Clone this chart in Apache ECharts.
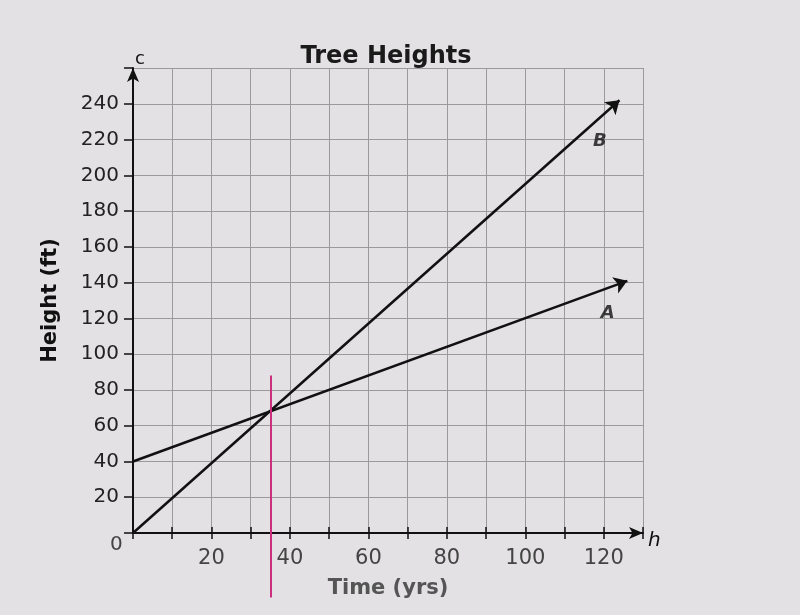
<!DOCTYPE html>
<html><head><meta charset="utf-8">
<script src="https://cdn.jsdelivr.net/npm/echarts@6/dist/echarts.min.js"></script>
<style>html,body{margin:0;padding:0;background:#e3e1e3}#c{width:800px;height:615px}</style>
</head><body><div id="c"></div>
<script>
const titleText = 'Tree Heights';
const xName = 'Time (yrs)';
const yName = 'Height (ft)';
const xTickLabels = [20, 40, 60, 80, 100, 120];
const yTickLabels = [20, 40, 60, 80, 100, 120, 140, 160, 180, 200, 220, 240];
const treeA = [[0, 40], [126, 141]];
const treeB = [[0, 0], [124, 242]];
const marker = [[35, -36], [35, 88]];
const labelA = [121, 123, 'A'];
const labelB = [119, 219, 'B'];

const chart = echarts.init(document.getElementById('c'));
const font = 'DejaVu Sans';
const xBase = { type: 'value', min: 0, max: 130, interval: 10 };
chart.setOption({
  backgroundColor: '#e3e1e3',
  title: { text: titleText, left: 381, top: 40, textAlign: 'center',
    textStyle: { fontFamily: font, fontWeight: 'bold', fontSize: 24, color: '#1a1a1a' } },
  grid: { left: 133, right: 157, top: 68, bottom: 82 },
  xAxis: [Object.assign({}, xBase, {
    name: xName, nameLocation: 'middle', nameGap: 45,
    nameTextStyle: { fontFamily: font, fontSize: 21, fontWeight: 'bold', color: '#555' },
    axisLine: { show: true, lineStyle: { color: '#111', width: 2 }, symbol: ['none', 'arrow'], symbolSize: [9, 14], symbolOffset: [0, 0] },
    axisTick: { show: true, inside: false, length: 6, lineStyle: { color: '#111', width: 1.5 } },
    axisLabel: { fontFamily: font, fontSize: 21, color: '#444', margin: 15,
      formatter: v => xTickLabels.includes(v) ? String(v) : '' },
    splitLine: { show: true, lineStyle: { color: '#9a9a9a', width: 1 } } }),
    Object.assign({}, xBase, { position: 'bottom', offset: 0,
    axisLine: { show: false }, axisLabel: { show: false }, splitLine: { show: false },
    axisTick: { show: true, inside: true, length: 6, lineStyle: { color: '#111', width: 1.5 } } })],
  yAxis: { type: 'value', min: 0, max: 260, interval: 20,
    name: yName, nameLocation: 'middle', nameGap: 72, nameRotate: 90,
    nameTextStyle: { fontFamily: font, fontSize: 21, fontWeight: 'bold', color: '#111' },
    axisLine: { show: true, lineStyle: { color: '#111', width: 2 }, symbol: ['none', 'arrow'], symbolSize: [9, 14], symbolOffset: [0, 0] },
    axisTick: { show: true, length: 9, lineStyle: { color: '#111', width: 1.5 } },
    axisLabel: { fontFamily: font, fontSize: 20, color: '#222', margin: 14,
      formatter: v => yTickLabels.includes(v) ? String(v) : '' },
    splitLine: { show: true, lineStyle: { color: '#9a9a9a', width: 1 } } },
  graphic: [
    { type: 'text', left: 110, top: 535, style: { text: '0', font: '20px ' + font, fill: '#444' } },
    { type: 'text', left: 135, top: 50, style: { text: 'c', font: '18px ' + font, fill: '#111' } },
    { type: 'text', left: 648, top: 531, style: { text: 'h', font: 'italic 20px ' + font, fill: '#111' } }
  ],
  series: [
    { type: 'lines', coordinateSystem: 'cartesian2d', polyline: false, silent: true,
      symbol: ['none', 'arrow'], symbolSize: 13,
      lineStyle: { color: '#111', width: 2.5, opacity: 1 },
      data: [{ coords: treeA }, { coords: treeB }] },
    { type: 'lines', coordinateSystem: 'cartesian2d', clip: false, silent: true,
      symbol: ['none', 'none'],
      lineStyle: { color: '#cc2f7d', width: 2, opacity: 1 },
      data: [{ coords: marker }] },
    { type: 'scatter', data: [labelA, labelB], symbolSize: 0, silent: true,
      label: { show: true, formatter: p => p.value[2], fontFamily: font, fontSize: 18,
        fontWeight: 'bold', fontStyle: 'italic', color: '#111' } }
  ]
});
</script></body></html>
